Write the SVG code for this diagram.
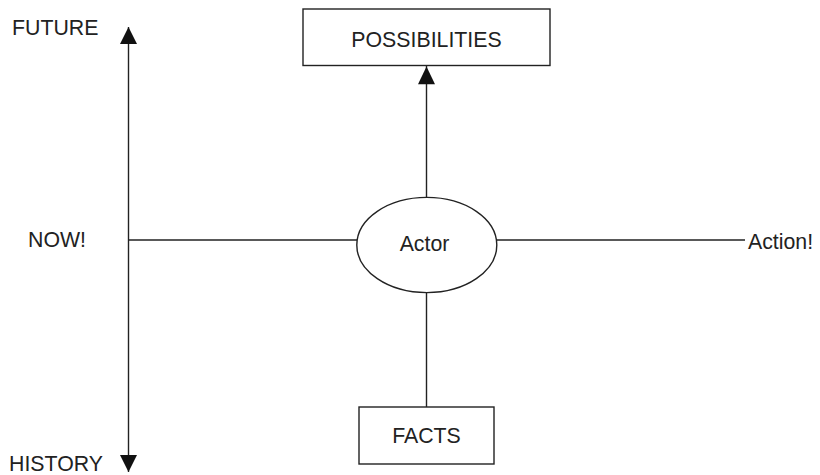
<svg xmlns="http://www.w3.org/2000/svg" width="820" height="475" viewBox="0 0 820 475">
  <defs>
    <style>
      .ln { stroke: #222; stroke-width: 1.4; fill: none; }
      .box { stroke: #222; stroke-width: 1.4; fill: #fff; }
      .lbl { font-family: "Liberation Sans", Arial, sans-serif; font-size: 21.3px; fill: #222; }
      .mid { text-anchor: middle; }
    </style>
    <marker id="tri" viewBox="0 0 17 18" refX="17" refY="8.5" markerWidth="17" markerHeight="18" markerUnits="userSpaceOnUse" orient="auto">
      <path d="M0,0 L17,8.5 L0,17 Z" fill="#111"/>
    </marker>
  </defs>
  <rect width="820" height="475" fill="#fff"/>

  <!-- time axis labels -->
  <g id="time-axis-labels">
    <text class="lbl" x="12" y="35">FUTURE</text>
    <text class="lbl" x="28" y="247">NOW!</text>
    <text class="lbl" x="9" y="471">HISTORY</text>
  </g>

  <g id="connectors">
    <!-- time axis, both directions -->
    <line class="ln" x1="128.5" y1="240" x2="128.5" y2="27" marker-end="url(#tri)"/>
    <line class="ln" x1="128.5" y1="240" x2="128.5" y2="472" marker-end="url(#tri)"/>
    <!-- now line to actor -->
    <line class="ln" x1="128.5" y1="240" x2="357" y2="240"/>
    <!-- actor to action -->
    <line class="ln" x1="496.5" y1="240" x2="745" y2="240"/>
    <!-- actor up to possibilities -->
    <line class="ln" x1="426.5" y1="197.5" x2="426.5" y2="66"/>
    <path d="M418,84.3 L426.5,66.5 L435,84.3 Z" fill="#111"/>
    <!-- facts up to actor -->
    <line class="ln" x1="426.5" y1="292.5" x2="426.5" y2="407"/>
  </g>

  <g id="possibilities">
    <rect class="box" x="303" y="9" width="247" height="56.5"/>
    <text class="lbl mid" x="426.5" y="47">POSSIBILITIES</text>
  </g>

  <g id="actor">
    <ellipse class="box" cx="426.8" cy="245" rx="70" ry="47.6"/>
    <text class="lbl mid" x="424.5" y="251">Actor</text>
  </g>

  <g id="facts">
    <rect class="box" x="359" y="407" width="135" height="57"/>
    <text class="lbl mid" x="426.5" y="443">FACTS</text>
  </g>

  <g id="action">
    <text class="lbl" x="748" y="249">Action!</text>
  </g>
</svg>
